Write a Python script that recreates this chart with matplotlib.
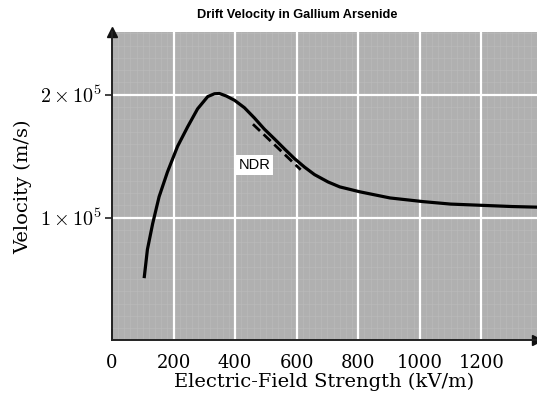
"""
Drift velocity in gallium arsenide vs electric field strength
"""
import numpy as np
import matplotlib
matplotlib.use('Agg')
import matplotlib.pyplot as plt
from matplotlib.ticker import FixedLocator, FixedFormatter, MultipleLocator

plt.rcParams['font.family'] = 'serif'
plt.rcParams['font.serif'] = ['DejaVu Serif']
plt.rcParams['mathtext.fontset'] = 'cm'

# field strength (kV/m) and drift velocity (units of 1e5 m/s)
field = [105, 115, 132, 153, 180, 213, 246, 278, 311, 333, 349, 371, 398, 430,
         463, 495, 528, 560, 593, 626, 658, 702, 740, 805, 903, 1011, 1100, 1200,
         1300, 1381]
velocity = [0.52, 0.74, 0.95, 1.17, 1.37, 1.58, 1.74, 1.885, 1.985, 2.008, 2.01, 1.99,
            1.955, 1.895, 1.81, 1.72, 1.64, 1.56, 1.48, 1.41, 1.35, 1.29, 1.25, 1.21,
            1.16, 1.13, 1.11, 1.10, 1.09, 1.085]

# dashed NDR tangent segment
ndr_field = [458, 613]
ndr_velocity = [1.76, 1.39]

xticks = [0, 200, 400, 600, 800, 1000, 1200]
yticks = [1e5, 2e5]
ytick_labels = [r'$1\times10^5$', r'$2\times10^5$']

fig = plt.figure(figsize=(5.37, 4.01), dpi=100)
ax = fig.add_axes([0.2086, 0.151, 0.7914, 0.769])
ax.set_facecolor('#b0b0b0')

v = np.array(velocity) * 1e5
ax.plot(field, v, color='black', lw=2.3, zorder=3, solid_joinstyle='round')
ax.plot(ndr_field, np.array(ndr_velocity) * 1e5, color='black', lw=2.0,
        linestyle=(0, (3.5, 1.8)), zorder=3)
ax.text(463, 1.43e5, 'NDR', family='Liberation Sans', fontsize=10.5,
        ha='center', va='center', zorder=4,
        bbox=dict(facecolor='white', edgecolor='none', pad=2))

ax.set_xlim(0, 1381)
ax.set_ylim(0, 2.51e5)

# fine texture + white major grid
ax.xaxis.set_minor_locator(MultipleLocator(20))
ax.yaxis.set_minor_locator(MultipleLocator(0.1e5))
ax.grid(True, which='minor', color='#bcbcbc', lw=0.4, zorder=0)
for x in xticks[1:]:
    ax.axvline(x, color='white', lw=1.6, zorder=1)
for y in yticks:
    ax.axhline(y, color='white', lw=1.6, zorder=1)
ax.set_axisbelow(True)

ax.xaxis.set_major_locator(FixedLocator(xticks))
ax.set_xticklabels([str(t) for t in xticks])
ax.yaxis.set_major_locator(FixedLocator(yticks))
ax.yaxis.set_major_formatter(FixedFormatter(ytick_labels))
ax.tick_params(axis='x', which='major', direction='in', length=8, width=1.2,
               color='#222222', labelsize=13, pad=10)
ax.tick_params(axis='y', which='major', direction='out', length=5, width=1.2,
               color='#222222', labelsize=14.5, pad=2)
ax.tick_params(which='minor', length=0)

for s in ['top', 'right']:
    ax.spines[s].set_visible(False)
for s in ['left', 'bottom']:
    ax.spines[s].set_linewidth(1.4)
    ax.spines[s].set_color('#222222')

# arrow heads at spine ends
ax.plot(1, 0, marker='>', color='#111111', ms=7, transform=ax.transAxes, clip_on=False)
ax.plot(0, 1, marker='^', color='#111111', ms=7, transform=ax.transAxes, clip_on=False)

ax.set_xlabel('Electric-Field Strength (kV/m)', fontsize=14, labelpad=0)
ax.set_ylabel('Velocity (m/s)', fontsize=14, labelpad=6)

fig.text(0.553, 0.962, 'Drift Velocity in Gallium Arsenide', family='Liberation Sans',
         fontweight='bold', fontsize=9.2, ha='center', va='center')

fig.savefig('out.png', dpi=100)
